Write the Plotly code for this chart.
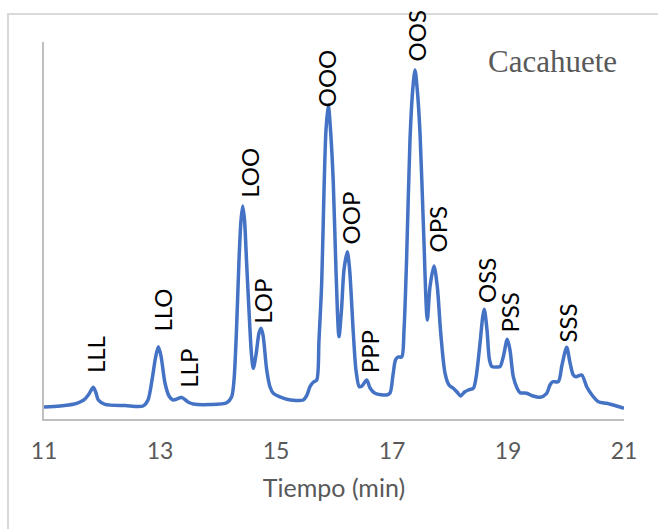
import numpy as np
import plotly.graph_objects as go

# Chromatogram trace: retention time (min) and detector response (arbitrary units)
tiempo = [
    11.000, 11.276, 11.505, 11.621, 11.707, 11.776, 11.850, 11.897, 11.936, 12.052,
    12.397, 12.707, 12.793, 12.862, 12.922, 12.971, 13.017, 13.086, 13.155, 13.224,
    13.374, 13.483, 13.574, 13.862, 14.150, 14.236, 14.276, 14.319, 14.362, 14.397,
    14.426, 14.457, 14.491, 14.534, 14.578, 14.609, 14.655, 14.707, 14.741, 14.776,
    14.840, 14.897, 14.953, 15.184, 15.471, 15.534, 15.586, 15.647, 15.702, 15.741,
    15.788, 15.828, 15.862, 15.902, 15.940, 15.988, 16.034, 16.086, 16.129, 16.172,
    16.229, 16.267, 16.333, 16.379, 16.436, 16.483, 16.564, 16.621, 16.707, 16.909,
    16.966, 17.017, 17.060, 17.103, 17.167, 17.207, 17.253, 17.310, 17.357, 17.397,
    17.436, 17.483, 17.540, 17.609, 17.655, 17.724, 17.781, 17.840, 17.914, 17.983,
    18.057, 18.121, 18.184, 18.250, 18.316, 18.402, 18.448, 18.488, 18.529, 18.564,
    18.591, 18.638, 18.681, 18.724, 18.810, 18.862, 18.919, 18.988, 19.034, 19.091,
    19.155, 19.207, 19.322, 19.431, 19.552, 19.667, 19.724, 19.771, 19.867, 19.931,
    20.012, 20.069, 20.126, 20.172, 20.271, 20.357, 20.448, 20.557, 20.702, 20.845,
    21.000,
]
respuesta = [
    3.18, 3.45, 3.90, 4.51, 5.31, 6.63, 8.41, 6.90, 5.04, 3.90,
    3.58, 3.45, 5.04, 10.34, 16.18, 19.18, 16.71, 9.55, 6.10, 5.04,
    5.70, 4.51, 3.98, 3.85, 4.32, 5.92, 10.34, 23.61, 42.18, 52.79,
    56.50, 52.79, 42.18, 28.91, 16.98, 13.45, 16.98, 22.81, 24.06, 22.28,
    13.00, 8.49, 6.82, 5.23, 5.04, 6.37, 8.57, 9.81, 10.34, 20.95,
    36.07, 60.74, 76.66, 83.29, 76.66, 62.60, 39.52, 21.83, 28.91, 39.52,
    44.38, 40.05, 22.81, 13.00, 8.57, 8.75, 10.34, 8.22, 6.82, 6.37,
    6.90, 11.67, 15.65, 16.45, 16.45, 23.61, 43.05, 74.01, 87.27, 92.57,
    87.27, 75.86, 51.99, 26.26, 35.09, 40.58, 35.09, 22.81, 12.20, 9.02,
    8.14, 7.16, 6.10, 7.16, 7.69, 8.14, 10.88, 15.80, 21.83, 27.14,
    29.10, 23.61, 15.65, 13.87, 13.79, 13.87, 16.53, 21.14, 18.30, 11.22,
    8.22, 6.98, 6.82, 6.10, 5.76, 6.82, 9.02, 9.89, 9.89, 14.32,
    19.02, 14.96, 11.67, 11.22, 11.67, 8.57, 6.37, 4.59, 4.16, 3.58,
    2.84,
]

# Identified triacylglycerols and their retention times (min)
picos = ["LLL", "LLO", "LLP", "LOO", "LOP", "OOO", "OOP", "PPP",
         "OOS", "OPS", "OSS", "PSS", "SSS"]
t_picos = [11.850, 12.971, 13.374, 14.426, 14.741, 15.902, 16.229, 16.564,
           17.397, 17.724, 18.591, 18.988, 20.012]

x_ticks = [11, 13, 15, 17, 19, 21]

# label offsets in pixels (dx, gap above the peak)
label_offsets = {
    "LLL": (2, 12), "LLO": (4, 13), "LLP": (6, 8), "LOO": (6, 6),
    "LOP": (2, 3), "OOO": (-2, -4), "OOP": (3, 5), "PPP": (3, 5),
    "OOS": (1, 6), "OPS": (4, 12), "OSS": (3, 4), "PSS": (2, 5), "SSS": (1, 3),
}

fig = go.Figure()
fig.add_trace(go.Scatter(
    x=tiempo, y=respuesta, mode="lines",
    line=dict(color="#4472C4", width=3.5, shape="spline", smoothing=0.8),
    hoverinfo="skip", showlegend=False,
))

for nombre, tp in zip(picos, t_picos):
    yp = float(np.interp(tp, tiempo, respuesta))
    dx, gap = label_offsets[nombre]
    fig.add_annotation(
        x=tp, y=yp, xref="x", yref="y", text=nombre, textangle=-90,
        showarrow=False, xanchor="center", yanchor="bottom",
        xshift=dx, yshift=gap,
        font=dict(family="Lato", size=24, color="#000000"),
    )

fig.add_annotation(
    x=0.876, y=0.947, xref="paper", yref="paper", text="Cacahuete",
    showarrow=False, xanchor="center", yanchor="middle",
    font=dict(family="Liberation Serif", size=31, color="#595959"),
)

# outer chart frame
fig.add_shape(
    type="rect", xref="paper", yref="paper",
    x0=-0.0621, x1=1.3, y0=-0.6, y1=1.0743,
    line=dict(color="#D9D9D9", width=2), fillcolor="rgba(0,0,0,0)", layer="below",
)

fig.update_layout(
    width=658, height=529,
    margin=dict(l=44, r=34, t=42, b=110),
    paper_bgcolor="#FFFFFF", plot_bgcolor="#FFFFFF",
    xaxis=dict(
        range=[11, 21], tickvals=x_ticks, ticktext=[str(v) for v in x_ticks],
        showgrid=False, zeroline=False, showline=True,
        linecolor="#BFBFBF", linewidth=1.5, ticks="",
        ticklabelstandoff=11,
        tickfont=dict(family="Lato", size=23, color="#595959"),
        title=dict(text="Tiempo (min)", standoff=16,
                   font=dict(family="Lato", size=25, color="#595959")),
    ),
    yaxis=dict(
        range=[0, 100], showticklabels=False, showgrid=False, zeroline=False,
        showline=True, linecolor="#BFBFBF", linewidth=1.5, ticks="",
    ),
)

fig.write_html("out.html")
